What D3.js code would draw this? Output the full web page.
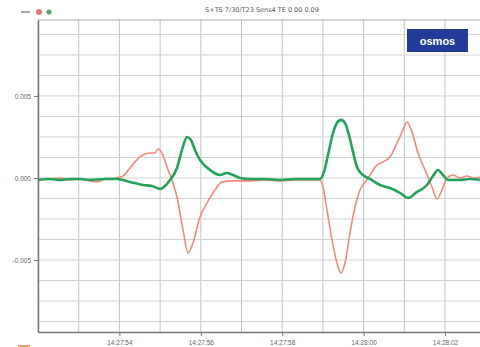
<!DOCTYPE html>
<html>
<head>
<meta charset="utf-8">
<script src="https://cdn.jsdelivr.net/npm/d3@7/dist/d3.min.js"></script>
<style>
html,body{margin:0;padding:0;background:#fff;}
svg{display:block;font-family:"DejaVu Sans",sans-serif;}
</style>
</head>
<body>
<svg id="chart" width="480" height="347"></svg>
<script>
// seconds after 14:27:52
const redTimes = [0,0.295,0.541,0.786,1.032,1.278,1.45,1.646,1.892,2.088,2.26,2.506,2.752,2.875,2.948,3.047,3.17,3.292,3.415,3.563,3.686,3.808,3.98,4.152,4.349,4.521,4.84,5.209,5.577,5.946,6.314,6.683,6.929,7.002,7.101,7.224,7.346,7.445,7.543,7.666,7.789,7.912,8.084,8.206,8.329,8.477,8.649,8.821,8.968,9.066,9.189,9.337,9.509,9.681,9.803,9.926,10.049,10.197,10.369,10.541,10.713,10.86];
const redValues = [-0.00006,-0.00006,0,-0.00012,-0.00006,-0.00018,-0.00024,-0.00006,0,0.00012,0.00061,0.00128,0.00152,0.00152,0.00177,0.00152,0.00067,-0.00012,-0.00116,-0.00317,-0.00457,-0.00396,-0.00238,-0.00152,-0.00073,-0.00024,-0.00018,-0.00018,-0.00012,-0.00018,-0.00012,-0.00012,-0.00012,-0.00055,-0.00195,-0.00378,-0.00518,-0.00579,-0.00518,-0.00335,-0.00177,-0.00073,-0.00012,0.00037,0.00079,0.00098,0.00128,0.00213,0.00293,0.00341,0.0028,0.00152,0.00049,-0.00055,-0.00128,-0.00073,0,0.00018,0,0.00012,0,0.00006];
const greenTimes = [0,0.295,0.541,0.786,1.032,1.278,1.646,1.941,2.26,2.58,2.801,3.0,3.12,3.243,3.415,3.538,3.661,3.759,3.857,3.98,4.226,4.472,4.644,4.791,4.963,5.209,5.577,5.946,6.314,6.683,6.929,7.027,7.125,7.248,7.346,7.445,7.543,7.641,7.74,7.838,7.985,8.157,8.403,8.649,8.894,9.091,9.312,9.558,9.705,9.828,9.951,10.074,10.369,10.614,10.86];
const greenValues = [-0.00012,-0.00006,-0.00012,-0.00006,-0.00006,-0.00012,-0.00006,-0.00006,-0.00024,-0.00043,-0.00049,-0.00067,-0.00049,-0.00012,0.00061,0.00171,0.0025,0.00232,0.00171,0.0011,0.00049,0.00018,0.0003,0.00018,0,-0.00006,-0.00006,-0.00012,-0.00006,-0.00006,-0.00006,0.00037,0.0014,0.00274,0.00335,0.00354,0.00335,0.00262,0.00159,0.00067,0.00018,-0.00006,-0.00043,-0.00061,-0.00091,-0.00122,-0.00085,-0.00043,0.00012,0.00049,0.00018,-0.00012,-0.00012,-0.00006,-0.00012];
const yTickValues = [-0.005, 0, 0.005];
const yTickLabels = ["-0.005", "0.000", "0.005"];
const xTickSeconds = [2, 4, 6, 8, 10];
const xTickLabels = ["14:27:54", "14:27:56", "14:27:58", "14:28:00", "14:28:02"];
const titleText = "S+TS 7/30/T23 Sens4 TE 0 00 0.09";
const logoText = "osmos";

const svg = d3.select("#chart");
const L = 38, R = 480, T = 20, B = 332;
const x = d3.scaleLinear().domain([0, 10.86]).range([L, R]);
const y = d3.scaleLinear().domain([-0.00939, 0.00963]).range([B, T]);

// grid
const vGrid = d3.range(0, 11, 1);
const hGrid = d3.range(-7, 8).map(i => i * 0.00125);
svg.append("g").selectAll("line").data(vGrid).join("line")
  .attr("x1", d => x(d)).attr("x2", d => x(d)).attr("y1", T).attr("y2", B)
  .attr("stroke", "#c4c4c4").attr("stroke-width", 1);
svg.append("g").selectAll("line").data(hGrid).join("line")
  .attr("x1", L).attr("x2", R).attr("y1", d => y(d)).attr("y2", d => y(d))
  .attr("stroke", "#d2d2d2").attr("stroke-width", 1);
// top border
svg.append("line").attr("x1", L).attr("x2", R).attr("y1", T).attr("y2", T)
  .attr("stroke", "#a8a8a8").attr("stroke-width", 1.2);

// axes
const xAxis = d3.axisBottom(x).tickValues(xTickSeconds)
  .tickFormat((d, i) => xTickLabels[i]).tickSize(4).tickSizeOuter(0);
const gx = svg.append("g").attr("transform", `translate(0,${B})`).call(xAxis);
gx.select(".domain").attr("stroke", "#777").attr("stroke-width", 1.5);
gx.selectAll(".tick line").attr("stroke", "#777");
gx.selectAll("text").attr("font-size", 6.5).attr("fill", "#666").attr("dy", "0.9em");

const yAxis = d3.axisLeft(y).tickValues(yTickValues)
  .tickFormat((d, i) => yTickLabels[i]).tickSize(4).tickSizeOuter(0);
const gy = svg.append("g").attr("transform", `translate(${L},0)`).call(yAxis);
gy.select(".domain").attr("stroke", "#777").attr("stroke-width", 1.5);
gy.selectAll(".tick line").attr("stroke", "#777");
gy.selectAll("text").attr("font-size", 6.5).attr("fill", "#666");

// series
const line = d3.line().x(d => x(d[0])).y(d => y(d[1])).curve(d3.curveMonotoneX);
const redData = redTimes.map((t, i) => [t, redValues[i]]);
const greenData = greenTimes.map((t, i) => [t, greenValues[i]]);
svg.append("path").datum(redData).attr("d", line)
  .attr("fill", "none").attr("stroke", "#f18a7c").attr("stroke-width", 1.6);
svg.append("path").datum(greenData).attr("d", line)
  .attr("fill", "none").attr("stroke", "#26a35b").attr("stroke-width", 2.6);

// title
svg.append("text").attr("x", 262).attr("y", 12).attr("text-anchor", "middle")
  .attr("font-size", 6.5).attr("fill", "#555").text(titleText);

// legend top-left
svg.append("line").attr("x1", 21).attr("x2", 30).attr("y1", 12).attr("y2", 12)
  .attr("stroke", "#888").attr("stroke-width", 1.5);
svg.append("circle").attr("cx", 39).attr("cy", 12).attr("r", 3).attr("fill", "#e2766c");
svg.append("circle").attr("cx", 49).attr("cy", 12).attr("r", 2.6).attr("fill", "#5aa878");
// bottom-left legend fragment
svg.append("line").attr("x1", 18).attr("x2", 30).attr("y1", 346).attr("y2", 346)
  .attr("stroke", "#f2a070").attr("stroke-width", 2);

// logo
svg.append("rect").attr("x", 407).attr("y", 29).attr("width", 61).attr("height", 23).attr("fill", "#223a98");
svg.append("text").attr("x", 437.5).attr("y", 44.5).attr("text-anchor", "middle")
  .attr("font-size", 11).attr("font-weight", "bold").attr("fill", "#fff")
  .attr("font-family", "Arial, 'Liberation Sans', sans-serif").text(logoText);
</script>
</body>
</html>
